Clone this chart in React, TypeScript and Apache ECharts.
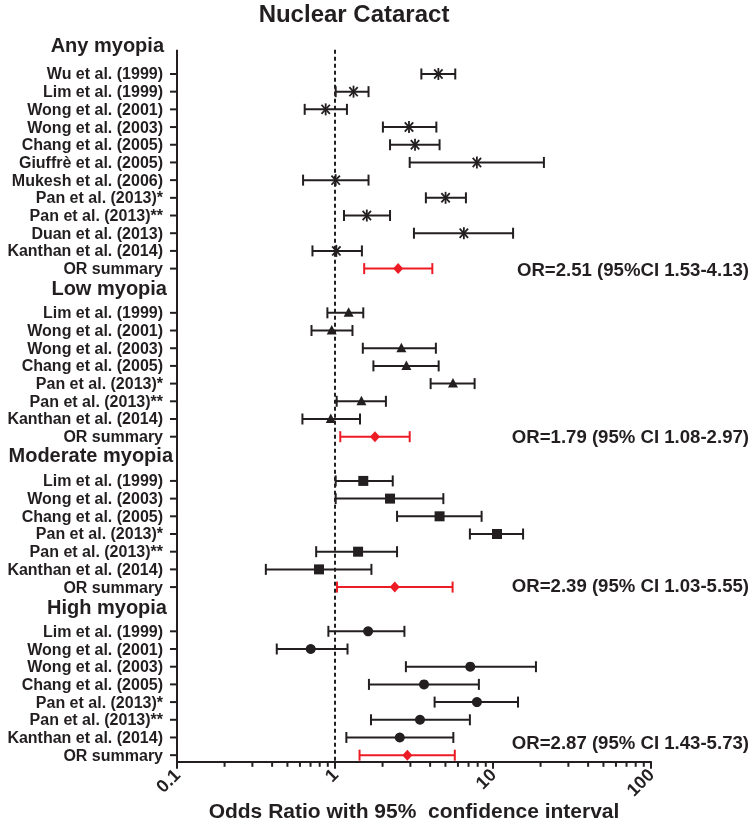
import { useEffect, useRef } from 'react';
import * as echarts from 'echarts';

const chartTitle = 'Nuclear Cataract';
const xTitle = 'Odds Ratio with 95%  confidence interval';
const groupNames = ['Any myopia', 'Low myopia', 'Moderate myopia', 'High myopia'];

const anyStudies = ['Wu et al. (1999)', 'Lim et al. (1999)', 'Wong et al. (2001)', 'Wong et al. (2003)', 'Chang et al. (2005)', 'Giuffrè et al. (2005)', 'Mukesh et al. (2006)', 'Pan et al. (2013)*', 'Pan et al. (2013)**', 'Duan et al. (2013)', 'Kanthan et al. (2014)', 'OR summary'];
const anyOR = [4.51, 1.31, 0.873, 2.94, 3.21, 7.91, 1.01, 5.01, 1.59, 6.54, 1.02, 2.51];
const anyLow = [3.52, 1.01, 0.643, 2.01, 2.23, 2.97, 0.628, 3.76, 1.14, 3.16, 0.72, 1.53];
const anyHigh = [5.77, 1.63, 1.19, 4.38, 4.59, 21.0, 1.63, 6.74, 2.23, 13.4, 1.48, 4.13];

const lowStudies = ['Lim et al. (1999)', 'Wong et al. (2001)', 'Wong et al. (2003)', 'Chang et al. (2005)', 'Pan et al. (2013)*', 'Pan et al. (2013)**', 'Kanthan et al. (2014)', 'OR summary'];
const lowOR = [1.22, 0.953, 2.63, 2.83, 5.58, 1.47, 0.94, 1.79];
const lowLow = [0.895, 0.71, 1.5, 1.75, 4.03, 1.025, 0.622, 1.08];
const lowHigh = [1.51, 1.29, 4.35, 4.53, 7.65, 2.1, 1.44, 2.97];

const modStudies = ['Lim et al. (1999)', 'Wong et al. (2003)', 'Chang et al. (2005)', 'Pan et al. (2013)*', 'Pan et al. (2013)**', 'Kanthan et al. (2014)', 'OR summary'];
const modOR = [1.51, 2.23, 4.59, 10.6, 1.4, 0.792, 2.39];
const modLow = [1.01, 1.01, 2.47, 7.14, 0.76, 0.365, 1.03];
const modHigh = [2.32, 4.85, 8.47, 15.5, 2.47, 1.7, 5.55];

const highStudies = ['Lim et al. (1999)', 'Wong et al. (2001)', 'Wong et al. (2003)', 'Chang et al. (2005)', 'Pan et al. (2013)*', 'Pan et al. (2013)**', 'Kanthan et al. (2014)', 'OR summary'];
const highOR = [1.62, 0.702, 7.18, 3.66, 7.91, 3.45, 2.57, 2.87];
const highLow = [0.908, 0.428, 2.81, 1.64, 4.27, 1.69, 1.18, 1.43];
const highHigh = [2.75, 1.2, 18.7, 8.14, 14.4, 7.14, 5.61, 5.73];

const summaryTexts = ['OR=2.51 (95%CI 1.53-4.13)', 'OR=1.79 (95% CI 1.08-2.97)', 'OR=2.39 (95% CI 1.03-5.55)', 'OR=2.87 (95% CI 1.43-5.73)'];
const xMajorTicks = [0.1, 1, 10, 100];
const xMinorTicks = [0.2, 0.3, 0.4, 0.5, 0.6, 0.7, 0.8, 0.9, 2, 3, 4, 5, 6, 7, 8, 9, 20, 30, 40, 50, 60, 70, 80, 90];

// ---- layout (quarter-row units) ----
const FONT = "'Liberation Sans', Arial, Helvetica, sans-serif";
const INK = '#231f20';
const RED = '#ed1c24';
const markerShapes = ['asterisk', 'triangle', 'square', 'circle'];
const headerGap = [6, 5, 5, 5];
const headerPadRight = [9, 6, 0, 6];
const headerPadBottom = [5, 6, 8, 5];
const groupGap = 10;
const rowStep = 4;

const groups = [
  { studies: anyStudies, or: anyOR, lo: anyLow, hi: anyHigh },
  { studies: lowStudies, or: lowOR, lo: lowLow, hi: lowHigh },
  { studies: modStudies, or: modOR, lo: modLow, hi: modHigh },
  { studies: highStudies, or: highOR, lo: highLow, hi: highHigh },
];

type Row = { label: string; kind: 'header' | 'study' | 'blank'; g: number };
const rowIndex: number[][] = [];
const headerIdx: number[] = [];
let last = 7 - groupGap;
groups.forEach((g, gi) => {
  let cursor = last + groupGap;
  headerIdx.push(cursor - headerGap[gi]);
  const idxs: number[] = [];
  g.studies.forEach(() => {
    idxs.push(cursor);
    cursor += rowStep;
  });
  last = idxs[idxs.length - 1];
  rowIndex.push(idxs);
});
const N = last + 2;
const rows: Row[] = Array.from({ length: N }, () => ({ label: '', kind: 'blank', g: -1 }));
groups.forEach((g, gi) => {
  rows[headerIdx[gi]] = { label: groupNames[gi], kind: 'header', g: gi };
  g.studies.forEach((s, si) => {
    rows[rowIndex[gi][si]] = { label: s, kind: 'study', g: gi };
  });
});
const categories = rows.map((_, i) => 'r' + i);

const headerRich: Record<string, any> = {};
groupNames.forEach((_, gi) => {
  headerRich['h' + gi] = {
    fontFamily: FONT,
    fontSize: 20,
    fontWeight: 'bold',
    color: INK,
    padding: [0, headerPadRight[gi], headerPadBottom[gi], 0],
  };
});

export default function App() {
  const ref = useRef<HTMLDivElement>(null);
  useEffect(() => {
    if (!ref.current) return;
    const chart = echarts.init(ref.current, null, { renderer: 'svg' });

    const forestSeries = groups.map((g, gi) => ({
      type: 'custom',
      name: groupNames[gi],
      clip: false,
      encode: { x: [0, 1, 2], y: 3 },
      data: g.studies.map((_, si) => [g.lo[si], g.hi[si], g.or[si], rowIndex[gi][si], si === g.studies.length - 1 ? 1 : 0]),
      renderItem: (params: any, api: any) => {
        const cs = params.coordSys;
        const y = api.value(3);
        const summary = api.value(4) === 1;
        const a = api.coord([api.value(0), y]);
        const b = api.coord([api.value(1), y]);
        const m = api.coord([api.value(2), y]);
        const color = summary ? RED : INK;
        const ls = { stroke: color, lineWidth: 2 };
        const cap = 5.5;
        const children: any[] = [
          // y-axis tick for this row
          { type: 'line', shape: { x1: cs.x - 7, y1: a[1], x2: cs.x, y2: a[1] }, style: { stroke: INK, lineWidth: 2 } },
          { type: 'line', shape: { x1: a[0], y1: a[1], x2: b[0], y2: b[1] }, style: ls },
          { type: 'line', shape: { x1: a[0], y1: a[1] - cap, x2: a[0], y2: a[1] + cap }, style: ls },
          { type: 'line', shape: { x1: b[0], y1: b[1] - cap, x2: b[0], y2: b[1] + cap }, style: ls },
        ];
        const shape = summary ? 'diamond' : markerShapes[gi];
        const [cx, cy] = m;
        if (shape === 'diamond') {
          children.push({ type: 'polygon', shape: { points: [[cx, cy - 5.5], [cx + 5, cy], [cx, cy + 5.5], [cx - 5, cy]] }, style: { fill: RED } });
        } else if (shape === 'triangle') {
          children.push({ type: 'polygon', shape: { points: [[cx, cy - 5.5], [cx + 5, cy + 4], [cx - 5, cy + 4]] }, style: { fill: INK } });
        } else if (shape === 'square') {
          children.push({ type: 'rect', shape: { x: cx - 5, y: cy - 5, width: 10, height: 10 }, style: { fill: INK } });
        } else if (shape === 'circle') {
          children.push({ type: 'circle', shape: { cx, cy, r: 5 }, style: { fill: INK } });
        } else {
          const st = { stroke: INK, lineWidth: 1.8 };
          children.push({ type: 'line', shape: { x1: cx, y1: cy - 6, x2: cx, y2: cy + 6 }, style: st });
          children.push({ type: 'line', shape: { x1: cx - 4.2, y1: cy - 4.6, x2: cx + 4.2, y2: cy + 4.6 }, style: st });
          children.push({ type: 'line', shape: { x1: cx - 4.2, y1: cy + 4.6, x2: cx + 4.2, y2: cy - 4.6 }, style: st });
        }
        return { type: 'group', children };
      },
      z: 5,
    }));

    const frameSeries = {
      type: 'custom',
      clip: false,
      encode: { x: 0, y: 1 },
      data: [[1, 1]],
      renderItem: (params: any, api: any) => {
        const cs = params.coordSys;
        const band = api.size([0, 1])[1];
        const top = api.coord([1, 1])[1] + band / 2;
        const bottom = cs.y + cs.height;
        const xRef = api.coord([1, 1])[0];
        return {
          type: 'group',
          children: [
            { type: 'line', shape: { x1: cs.x, y1: top, x2: cs.x, y2: bottom + 1 }, style: { stroke: INK, lineWidth: 2 } },
            { type: 'line', shape: { x1: xRef, y1: top, x2: xRef, y2: bottom }, style: { stroke: INK, lineWidth: 2, lineDash: [4, 3] } },
          ],
        };
      },
      z: 3,
    };

    const minorTickSeries = {
      type: 'custom',
      clip: false,
      encode: { x: 0, y: 1 },
      data: xMinorTicks.map((v) => [v, N - 1]),
      renderItem: (params: any, api: any) => {
        const cs = params.coordSys;
        const x = api.coord([api.value(0), api.value(1)])[0];
        const y0 = cs.y + cs.height;
        return { type: 'line', shape: { x1: x, y1: y0, x2: x, y2: y0 + 5 }, style: { stroke: INK, lineWidth: 2 } };
      },
      z: 3,
    };

    chart.setOption({
      animation: false,
      title: {
        text: chartTitle,
        left: 354,
        top: 1,
        padding: 0,
        textAlign: 'center',
        textStyle: { fontFamily: FONT, fontSize: 24, fontWeight: 'bold', color: INK },
      },
      grid: { left: 177, top: 40.8, width: 474, height: 721, containLabel: false, outerBoundsMode: 'none' },
      xAxis: {
        type: 'log',
        logBase: 10,
        min: xMajorTicks[0],
        max: xMajorTicks[xMajorTicks.length - 1],
        name: xTitle,
        nameLocation: 'middle',
        nameGap: 38,
        nameMoveOverlap: false,
        nameTextStyle: { fontFamily: FONT, fontSize: 21, fontWeight: 'bold', color: INK },
        axisLine: { show: true, onZero: false, lineStyle: { color: INK, width: 2 } },
        axisTick: { show: true, length: 7, lineStyle: { color: INK, width: 2 } },
        axisLabel: {
          rotate: 45,
          margin: 10,
          fontFamily: FONT,
          fontSize: 18,
          fontWeight: 'bold',
          color: INK,
          formatter: (v: number) => String(+v.toPrecision(3)),
        },
        splitLine: { show: false },
      },
      yAxis: {
        type: 'category',
        inverse: true,
        data: categories,
        axisLine: { show: false },
        axisTick: { show: false },
        axisLabel: {
          interval: 0,
          margin: 4,
          fontFamily: FONT,
          color: INK,
          formatter: (_v: string, i: number) => {
            const r = rows[i];
            if (!r || r.kind === 'blank') return '';
            if (r.kind === 'header') return `{h${r.g}|${r.label}}`;
            return `{s|${r.label}}`;
          },
          rich: {
            s: { fontFamily: FONT, fontSize: 16, fontWeight: 'bold', color: INK, padding: [0, 10, 0, 0] },
            ...headerRich,
          },
        },
        splitLine: { show: false },
      },
      graphic: summaryTexts.map((t, i) => ({
        type: 'text',
        right: 3,
        top: [260, 427, 576, 733][i],
        style: { text: t, fontFamily: FONT, fontSize: 18.6, fontWeight: 'bold', fill: INK },
      })),
      series: [frameSeries, minorTickSeries, ...forestSeries],
    });
    return () => chart.dispose();
  }, []);
  return <div ref={ref} style={{ position: 'fixed', left: 0, top: 0, width: 752, height: 823 }} />;
}
